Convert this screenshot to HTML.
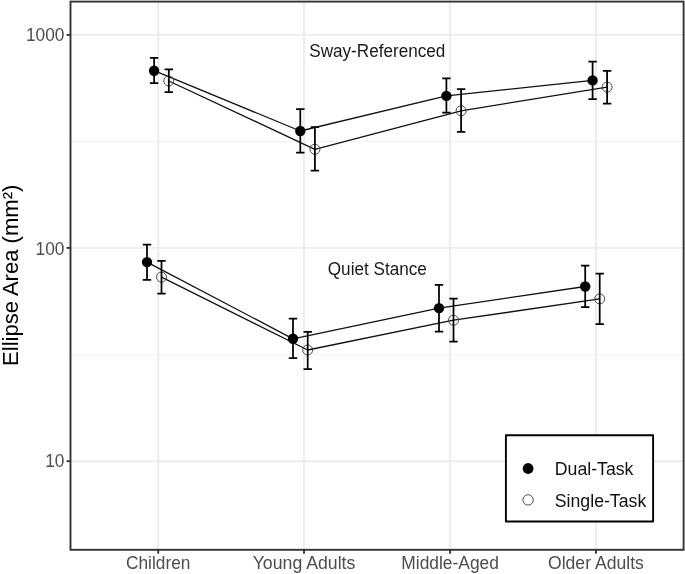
<!DOCTYPE html>
<html><head><meta charset="utf-8"><title>Ellipse Area</title>
<style>
html,body{margin:0;padding:0;background:#fff;}
svg{display:block;will-change:transform;}
text{font-family:"Liberation Sans",sans-serif;}
</style></head><body>
<svg width="685" height="574" viewBox="0 0 685 574">
<rect x="0" y="0" width="685" height="574" fill="#ffffff"/>
<g stroke="#ececec" fill="none">
<line x1="70.5" x2="683.6" y1="141.5" y2="141.5" stroke-width="0.85" stroke="#eeeeee"/>
<line x1="70.5" x2="683.6" y1="354.8" y2="354.8" stroke-width="0.85" stroke="#eeeeee"/>
<line x1="70.5" x2="683.6" y1="34.9" y2="34.9" stroke-width="1.9"/>
<line x1="70.5" x2="683.6" y1="247.9" y2="247.9" stroke-width="1.9"/>
<line x1="70.5" x2="683.6" y1="461.2" y2="461.2" stroke-width="1.9"/>
<line x1="158.2" x2="158.2" y1="1.6" y2="549.8" stroke-width="1.9"/>
<line x1="304.0" x2="304.0" y1="1.6" y2="549.8" stroke-width="1.9"/>
<line x1="450.1" x2="450.1" y1="1.6" y2="549.8" stroke-width="1.9"/>
<line x1="595.9" x2="595.9" y1="1.6" y2="549.8" stroke-width="1.9"/>
</g>
<g stroke="#111" stroke-width="1.3" fill="none" stroke-linejoin="round">
<polyline points="147.0,262.1 293.0,338.8 439.0,308.1 585.2,286.5"/>
<polyline points="161.5,277.1 307.7,350.0 453.5,320.2 599.7,298.9"/>
<polyline points="154.1,70.7 300.3,131.0 446.4,95.9 592.6,80.4"/>
<polyline points="168.8,81.0 314.9,149.3 461.1,110.8 607.1,87.1"/>
</g>
<circle cx="147.0" cy="262.1" r="5.2" fill="#000"/>
<circle cx="293.0" cy="338.8" r="5.2" fill="#000"/>
<circle cx="439.0" cy="308.1" r="5.2" fill="#000"/>
<circle cx="585.2" cy="286.5" r="5.2" fill="#000"/>
<circle cx="161.5" cy="277.1" r="5.0" fill="none" stroke="#3a3a3a" stroke-width="0.9"/>
<circle cx="307.7" cy="350.0" r="5.0" fill="none" stroke="#3a3a3a" stroke-width="0.9"/>
<circle cx="453.5" cy="320.2" r="5.0" fill="none" stroke="#3a3a3a" stroke-width="0.9"/>
<circle cx="599.7" cy="298.9" r="5.0" fill="none" stroke="#3a3a3a" stroke-width="0.9"/>
<circle cx="154.1" cy="70.7" r="5.2" fill="#000"/>
<circle cx="300.3" cy="131.0" r="5.2" fill="#000"/>
<circle cx="446.4" cy="95.9" r="5.2" fill="#000"/>
<circle cx="592.6" cy="80.4" r="5.2" fill="#000"/>
<circle cx="168.8" cy="81.0" r="5.0" fill="none" stroke="#3a3a3a" stroke-width="0.9"/>
<circle cx="314.9" cy="149.3" r="5.0" fill="none" stroke="#3a3a3a" stroke-width="0.9"/>
<circle cx="461.1" cy="110.8" r="5.0" fill="none" stroke="#3a3a3a" stroke-width="0.9"/>
<circle cx="607.1" cy="87.1" r="5.0" fill="none" stroke="#3a3a3a" stroke-width="0.9"/>
<g stroke="#000" stroke-width="1.75" fill="none">
<path d="M142.8,244.6H151.2M147.0,244.6V279.8M142.8,279.8H151.2"/>
<path d="M288.8,318.6H297.2M293.0,318.6V358.1M288.8,358.1H297.2"/>
<path d="M434.8,284.9H443.2M439.0,284.9V331.6M434.8,331.6H443.2"/>
<path d="M581.0,265.5H589.4000000000001M585.2,265.5V307.1M581.0,307.1H589.4000000000001"/>
<path d="M157.3,260.9H165.7M161.5,260.9V293.5M157.3,293.5H165.7"/>
<path d="M303.5,331.9H311.9M307.7,331.9V369.1M303.5,369.1H311.9"/>
<path d="M449.3,298.7H457.7M453.5,298.7V341.7M449.3,341.7H457.7"/>
<path d="M595.5,273.6H603.9000000000001M599.7,273.6V324.1M595.5,324.1H603.9000000000001"/>
<path d="M149.9,57.9H158.29999999999998M154.1,57.9V83.0M149.9,83.0H158.29999999999998"/>
<path d="M296.1,109.0H304.5M300.3,109.0V152.5M296.1,152.5H304.5"/>
<path d="M442.2,78.4H450.59999999999997M446.4,78.4V112.7M442.2,112.7H450.59999999999997"/>
<path d="M588.4,61.7H596.8000000000001M592.6,61.7V99.0M588.4,99.0H596.8000000000001"/>
<path d="M164.60000000000002,69.3H173.0M168.8,69.3V92.0M164.60000000000002,92.0H173.0"/>
<path d="M310.7,127.2H319.09999999999997M314.9,127.2V170.7M310.7,170.7H319.09999999999997"/>
<path d="M456.90000000000003,89.1H465.3M461.1,89.1V131.9M456.90000000000003,131.9H465.3"/>
<path d="M602.9,70.9H611.3000000000001M607.1,70.9V103.5M602.9,103.5H611.3000000000001"/>
</g>
<rect x="70.5" y="1.6" width="613.1" height="548.1999999999999" fill="none" stroke="#333" stroke-width="1.9"/>
<g stroke="#333" stroke-width="1.9">
<line x1="66.6" x2="70.5" y1="34.9" y2="34.9"/>
<line x1="66.6" x2="70.5" y1="247.9" y2="247.9"/>
<line x1="66.6" x2="70.5" y1="461.2" y2="461.2"/>
<line x1="158.2" x2="158.2" y1="549.8" y2="553.6999999999999"/>
<line x1="304.0" x2="304.0" y1="549.8" y2="553.6999999999999"/>
<line x1="450.1" x2="450.1" y1="549.8" y2="553.6999999999999"/>
<line x1="595.9" x2="595.9" y1="549.8" y2="553.6999999999999"/>
</g>
<g fill="#4d4d4d" font-size="17.6">
<text font-size="17.3" transform="translate(64.4,41.0) scale(1,1.045)" text-anchor="end">1000</text>
<text font-size="17.3" transform="translate(64.4,254.9) scale(1,1.045)" text-anchor="end">100</text>
<text font-size="17.3" transform="translate(64.4,467.4) scale(1,1.045)" text-anchor="end">10</text>
<text font-size="17.3" transform="translate(158.2,568.9) scale(1,1.045)" text-anchor="middle">Children</text>
<text font-size="17.7" transform="translate(304.0,568.9) scale(1,1.045)" text-anchor="middle">Young Adults</text>
<text font-size="17.4" transform="translate(450.1,568.9) scale(1,1.045)" text-anchor="middle">Middle-Aged</text>
<text font-size="17.6" transform="translate(595.9,568.9) scale(1,1.045)" text-anchor="middle">Older Adults</text>
</g>
<g fill="#1a1a1a" font-size="17.15">
<text transform="translate(377.3,57.0) scale(1,1.08)" text-anchor="middle">Sway-Referenced</text>
<text transform="translate(377.3,275.2) scale(1,1.08)" text-anchor="middle">Quiet Stance</text>
</g>
<text transform="translate(17.9,275.3) rotate(-90) scale(1.026,1)" text-anchor="middle" font-size="21.5" fill="#000">Ellipse Area (mm²)</text>
<rect x="505.9" y="435.2" width="147.2" height="86.3" fill="#fff" stroke="#000" stroke-width="1.9" stroke-linejoin="round"/>
<circle cx="528.1" cy="468.5" r="5.4" fill="#000"/>
<circle cx="528.1" cy="499.9" r="5.2" fill="#fff" stroke="#3a3a3a" stroke-width="0.9"/>
<g fill="#111" font-size="17.7"><text transform="translate(554.8,475.0) scale(1,1.045)" text-anchor="start">Dual-Task</text><text transform="translate(554.8,506.6) scale(1,1.045)" text-anchor="start">Single-Task</text></g>
</svg></body></html>
